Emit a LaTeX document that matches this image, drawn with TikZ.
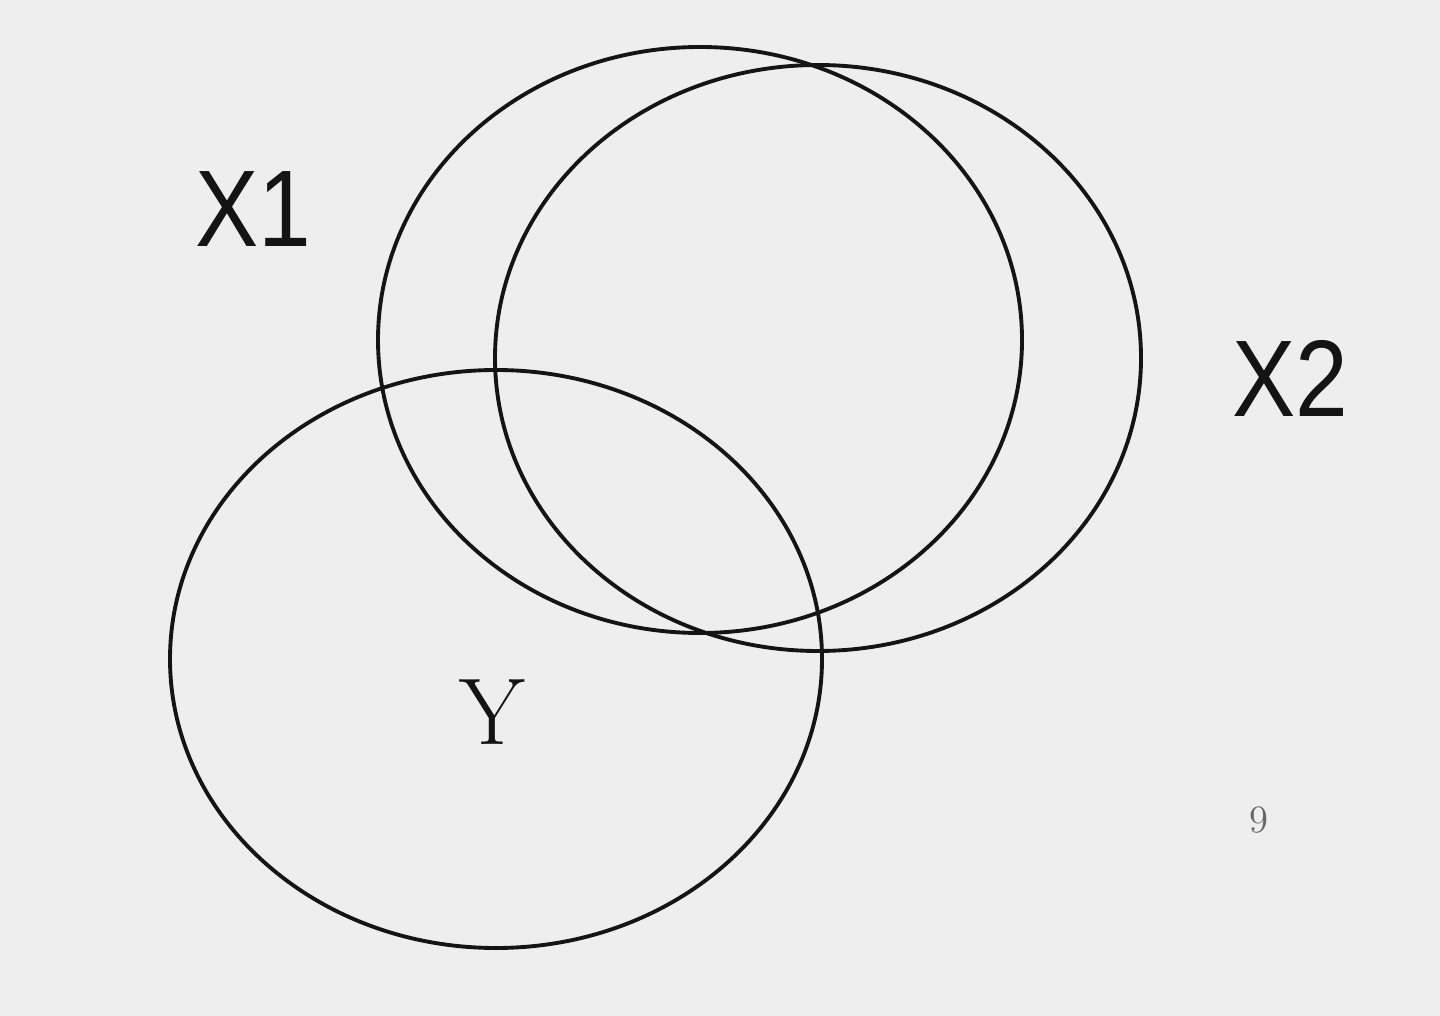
\documentclass[tikz,border=0pt]{standalone}
\usepackage{fontspec}
\newfontfamily\labelsans{Liberation Sans}
\definecolor{bg}{RGB}{238,238,238}
\definecolor{ink}{RGB}{20,20,20}
\begin{document}
\begin{tikzpicture}[x=0.1mm,y=-0.1mm,
  ring/.style={draw=ink,line width=1.1pt},
  sanslabel/.style={font=\labelsans\fontsize{31}{36}\selectfont,text=ink,inner sep=0pt,xscale=0.87},
  seriflabel/.style={font=\fontsize{27}{30}\selectfont,text=ink,inner sep=0pt},
  pagenum/.style={font=\fontsize{11}{12}\selectfont,text=black!60,inner sep=0pt}]
\fill[bg] (0,0) rectangle (1440,1016);
\useasboundingbox (0,0) rectangle (1440,1016);
\draw[ring] (700,340) ellipse [x radius=32.2mm, y radius=29.3mm];
\draw[ring] (818,358) ellipse [x radius=32.3mm, y radius=29.3mm];
\draw[ring] (496,659) ellipse [x radius=32.6mm, y radius=28.9mm];
\node[sanslabel] (x1) at (253,209) {X1};
\node[sanslabel] (x2) at (1290,378) {X2};
\node[seriflabel] (y) at (492,712) {Y};
\node[pagenum] (nine) at (1259,820) {9};
\end{tikzpicture}
\end{document}
